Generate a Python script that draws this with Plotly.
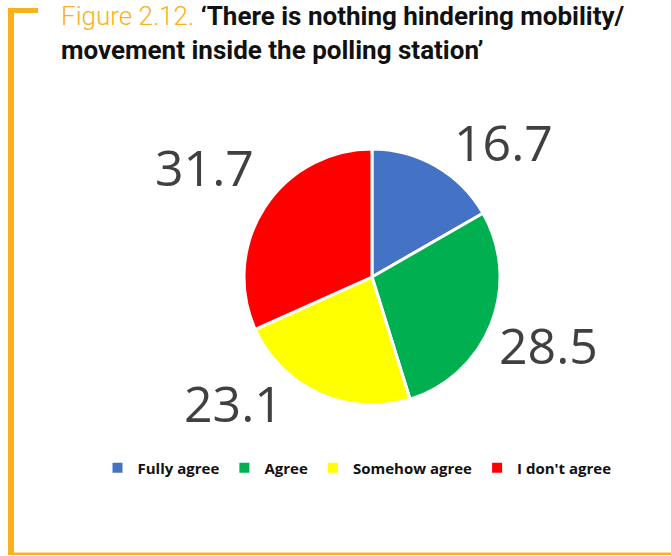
import plotly.graph_objects as go

categories = ["Fully agree", "Agree", "Somehow agree", "I don't agree"]
values = [16.7, 28.5, 23.1, 31.7]
colors = ["#4472C4", "#00B050", "#FFFF00", "#FF0000"]

W, H = 671, 556
# label centre positions (pixels) for each slice value
label_px = [(503, 142), (548, 345), (233, 403), (204, 167)]

cx, cy, r = 372, 277, 128

fig = go.Figure(go.Pie(
    labels=categories,
    values=values,
    sort=False,
    direction="clockwise",
    rotation=0,
    marker=dict(colors=colors, line=dict(color="white", width=3)),
    textinfo="none",
    hoverinfo="label+value",
    domain=dict(x=[(cx - r) / W, (cx + r) / W], y=[1 - (cy + r) / H, 1 - (cy - r) / H]),
))

annotations = []
for v, (px, py) in zip(values, label_px):
    annotations.append(dict(
        x=px / W, y=1 - py / H, xref="paper", yref="paper",
        text=f"{v:.1f}", showarrow=False,
        font=dict(family="Open Sans", size=50, color="#404040"),
        xanchor="center", yanchor="middle",
    ))

annotations.append(dict(
    x=60 / W, y=1, xref="paper", yref="paper", xanchor="left", yanchor="top",
    align="left", showarrow=False, borderpad=0,
    text=("<span style='color:#F9B122;font-weight:300'>Figure 2.12.</span> "
          "<b>‘There is nothing hindering mobility/</b><br>"
          "<b>movement inside the polling station’</b>"),
    font=dict(family="Roboto", size=26, color="#111111"),
))

shapes = [
    dict(type="rect", xref="paper", yref="paper", x0=8 / W, x1=14 / W,
         y0=1 - 555 / H, y1=1 - 8 / H, fillcolor="#F9B122", line=dict(width=0)),
    dict(type="rect", xref="paper", yref="paper", x0=8 / W, x1=38 / W,
         y0=1 - 13 / H, y1=1 - 8 / H, fillcolor="#F9B122", line=dict(width=0)),
    dict(type="rect", xref="paper", yref="paper", x0=8 / W, x1=1,
         y0=1 - 555 / H, y1=1 - 552.5 / H, fillcolor="#F9B122", line=dict(width=0)),
]

fig.update_layout(
    width=W, height=H,
    margin=dict(l=0, r=0, t=0, b=0),
    paper_bgcolor="white", plot_bgcolor="white",
    showlegend=True,
    legend=dict(orientation="h", x=357 / W, y=1 - 468 / H, xanchor="center", yanchor="middle",
                font=dict(family="Open Sans", size=15, color="#111111", weight="bold"),
                itemsizing="constant", traceorder="normal", itemwidth=30),
    annotations=annotations,
    shapes=shapes,
)

fig.write_html("out.html")
